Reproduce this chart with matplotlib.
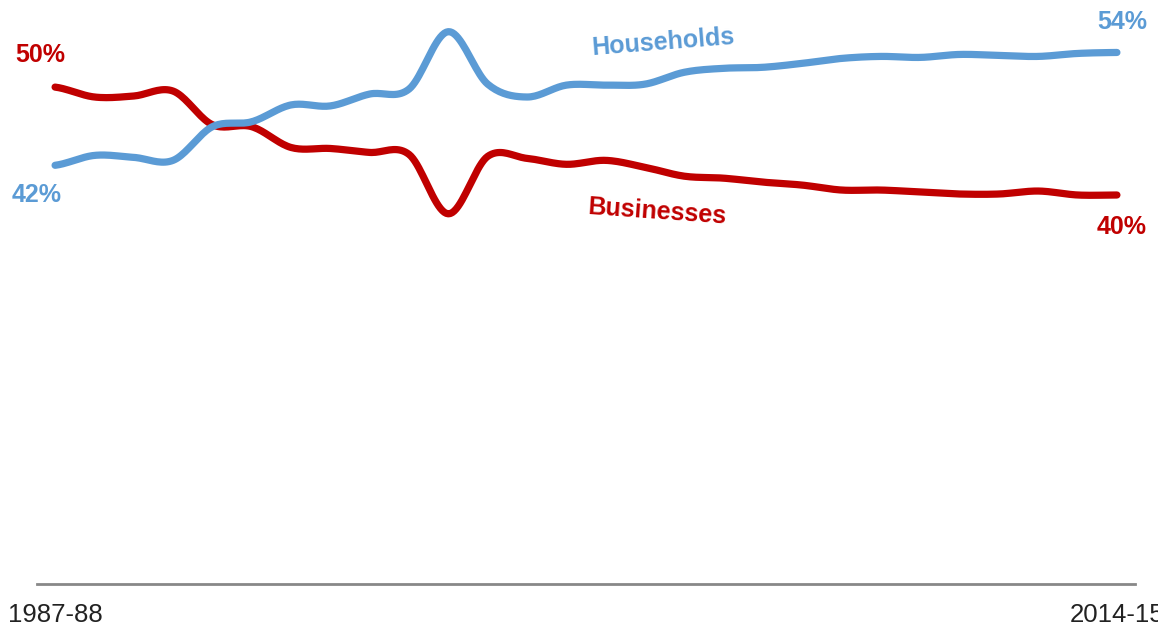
import numpy as np
import matplotlib
matplotlib.use("Agg")
import matplotlib.pyplot as plt

years = ["1987-88", "2014-15"]
households = [42.3, 43.3, 43.1, 42.8, 46.2, 46.7, 48.4, 48.3, 49.5, 50.0,
              55.8, 50.5, 49.2, 50.4, 50.4, 50.5, 51.7, 52.1, 52.2, 52.6,
              53.1, 53.3, 53.2, 53.5, 53.4, 53.3, 53.6, 53.7]
businesses = [50.2, 49.2, 49.3, 49.8, 46.4, 46.2, 44.1, 44.0, 43.6, 43.4,
              37.4, 43.2, 43.0, 42.4, 42.8, 42.1, 41.2, 41.0, 40.6, 40.3,
              39.8, 39.8, 39.6, 39.4, 39.4, 39.7, 39.3, 39.3]

BLUE = "#5b9bd5"
RED = "#c00000"


def smooth(y, n=20):
    # catmull-rom through every point
    y = np.asarray(y, float)
    p = np.concatenate([[y[0]], y, [y[-1]]])
    xs, ys = [], []
    t = np.linspace(0, 1, n, endpoint=False)
    for i in range(len(y) - 1):
        p0, p1, p2, p3 = p[i], p[i + 1], p[i + 2], p[i + 3]
        seg = 0.5 * (2 * p1 + (-p0 + p2) * t
                     + (2 * p0 - 5 * p1 + 4 * p2 - p3) * t ** 2
                     + (-p0 + 3 * p1 - 3 * p2 + p3) * t ** 3)
        xs.append(i + t)
        ys.append(seg)
    xs.append([len(y) - 1])
    ys.append([y[-1]])
    return np.concatenate(xs), np.concatenate(ys)


plt.rcParams['font.family'] = ['Liberation Sans', 'DejaVu Sans']

fig = plt.figure(figsize=(11.58, 6.29), dpi=100)
ax = fig.add_axes([37 / 1158, 45 / 629, 1098 / 1158, 584 / 629])

hx, hy = smooth(households)
bx, by = smooth(businesses)
ax.plot(hx, hy, color=BLUE, lw=5.2, solid_capstyle='round', zorder=3)
ax.plot(bx, by, color=RED, lw=5.2, solid_capstyle='round', zorder=2)

n = len(households)
ax.set_xlim(-0.46, n - 1 + 0.46)
ax.set_ylim(0, 59)

for s in ["top", "right", "left"]:
    ax.spines[s].set_visible(False)
ax.spines["bottom"].set_color("#888888")
ax.spines["bottom"].set_linewidth(2)
ax.set_yticks([])
ax.set_xticks([0, n - 1])
ax.set_xticklabels(years, fontsize=18.5, color="#222222")
ax.tick_params(axis='x', length=0, pad=14)

lbl = dict(fontsize=18, fontweight='bold', ha='center', va='center', clip_on=False)

# end labels
ax.text(-0.38, 53.4, "50%", color=RED, **lbl)
ax.text(-0.48, 39.3, "42%", color=BLUE, **lbl)
ax.text(27.13, 56.8, "54%", color=BLUE, **lbl)
ax.text(27.13, 36.1, "40%", color=RED, **lbl)

# series names
ax.text(15.46, 54.7, "Households", color=BLUE, rotation=4.5, **lbl)
ax.text(15.3, 37.6, "Businesses", color=RED, rotation=-4, **lbl)

fig.savefig("out.png", dpi=100)
